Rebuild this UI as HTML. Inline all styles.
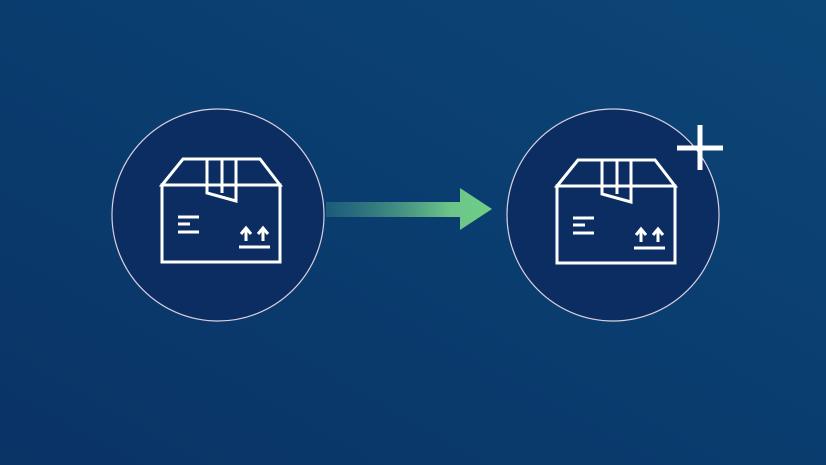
<!DOCTYPE html>
<html><head><style>html,body{margin:0;padding:0;overflow:hidden}body{width:826px;height:465px}</style></head>
<body>
<svg width="826" height="465" viewBox="0 0 826 465" xmlns="http://www.w3.org/2000/svg">
<defs>
<linearGradient id="bg" x1="0" y1="1" x2="1" y2="0">
<stop offset="0" stop-color="#0a3366"/><stop offset="1" stop-color="#0b4677"/>
</linearGradient>
<linearGradient id="ar" x1="326" y1="0" x2="492" y2="0" gradientUnits="userSpaceOnUse">
<stop offset="0" stop-color="#2f7a86" stop-opacity="0.5"/><stop offset="0.75" stop-color="#6cc488"/><stop offset="1" stop-color="#70cf86"/>
</linearGradient>
<g id="box" fill="none" stroke="#fff" stroke-width="3">
<path d="M162 185 L183 159 L260 159 L280 185 Z"/>
<rect x="162" y="185" width="118" height="77"/>
<path d="M207 159 L207 193 L236 201 L236 159 M222 159 L222 193"/>
<path d="M178 217 H199 M178 224 H190 M178 232 H199"/>
<path d="M239 247 H270 M246 241 V229 M241 234 L246 228 L251 234 M263 241 V229 M258 234 L263 228 L268 234"/>
</g>
</defs>
<rect width="826" height="465" fill="url(#bg)"/>
<circle cx="218" cy="215" r="106" fill="#0b2d62" stroke="#d8cfe0" stroke-width="1.2"/>
<circle cx="613" cy="215" r="106" fill="#0b2d62" stroke="#d8cfe0" stroke-width="1.2"/>
<use href="#box"/>
<use href="#box" transform="translate(395,1)"/>
<path d="M326 202 H460 V188 L492 209 L460 230 V217 H326 Z" fill="url(#ar)"/>
<path d="M677 148 H723 M700 125 V170" stroke="#fff" stroke-width="5"/>
</svg>
</body></html>
